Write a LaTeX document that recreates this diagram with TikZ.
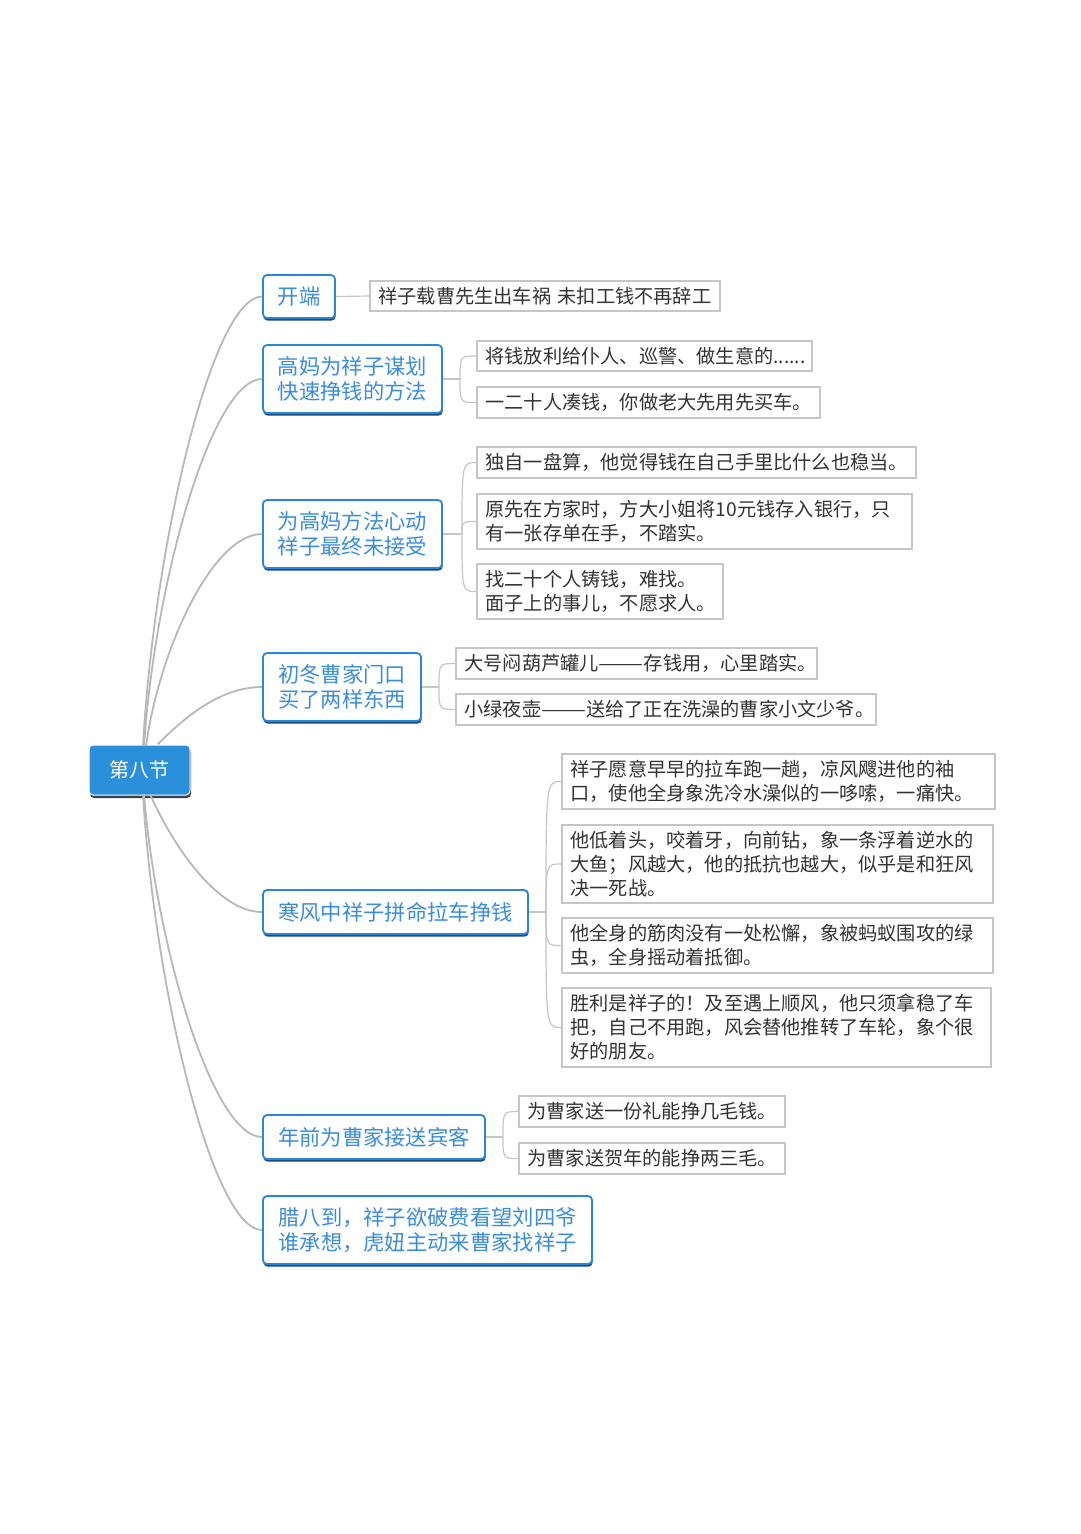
\documentclass[tikz,border=0pt]{standalone}
\usepackage{fontspec}
\newfontfamily\cjk{Noto Sans CJK SC}
\usetikzlibrary{shadows}
\definecolor{bblue}{HTML}{2A87D8}
\definecolor{tblue}{HTML}{3A8DDD}
\definecolor{navy}{HTML}{1D4A78}
\definecolor{rootfill}{HTML}{2B90DC}
\definecolor{lgray}{HTML}{C6C6C6}
\definecolor{cgray}{HTML}{B8B8B8}
\definecolor{txt}{HTML}{333333}
\newcommand{\longdash}{\scalebox{1.4}[1]{——}}
\tikzset{
  rootbox/.style={draw=white, line width=1pt, fill=rootfill, rounded corners=4pt, text=white,
    font=\cjk\fontsize{20}{24}\selectfont, minimum width=101pt, minimum height=50pt, inner sep=0pt,
    drop shadow={shadow xshift=1pt, shadow yshift=-3pt, fill=black!75, opacity=1}},
  topic/.style={draw=bblue, line width=1.8pt, fill=white, rounded corners=4pt, text=tblue,
    font=\cjk\fontsize{21.3}{25}\selectfont, align=center, inner sep=0pt,
    drop shadow={shadow xshift=0.6pt, shadow yshift=-2.6pt, fill=navy, opacity=1}},
  leaf/.style={draw=lgray, line width=1.1pt, fill=white, text=txt,
    font=\cjk\fontsize{19.2}{24}\selectfont, align=left, inner xsep=8.5pt, inner ysep=0pt},
  rootline/.style={draw=cgray, line width=1.8pt},
  subline/.style={draw=lgray, line width=1.2pt}
}
\newcommand{\leafnode}[6]{% name, x, y, width, height, text
  \node[leaf, text width=#4pt-17pt, minimum height=#5pt] (#1) at (#2,#3) {#6};}
\begin{document}
\begin{tikzpicture}[x=1pt,y=-1pt]
\useasboundingbox[fill=white] (0,0) rectangle (1080,1534);

% root
\node[rootbox] (root) at (139.5,770) {第八节};

% topics
\node[topic, minimum width=72pt, minimum height=43pt] (b1) at (299,296.5) {开端};
\node[topic, minimum width=179pt, minimum height=68pt] (b2) at (352.5,379) {高妈为祥子谋划\\快速挣钱的方法};
\node[topic, minimum width=179pt, minimum height=68pt] (b3) at (352.5,534) {为高妈方法心动\\祥子最终未接受};
\node[topic, minimum width=158pt, minimum height=68pt] (b4) at (342,687) {初冬曹家门口\\买了两样东西};
\node[topic, minimum width=265pt, minimum height=44pt] (b5) at (395.5,912) {寒风中祥子拼命拉车挣钱};
\node[topic, minimum width=222pt, minimum height=44pt] (b6) at (374,1137) {年前为曹家接送宾客};
\node[topic, minimum width=329pt, minimum height=68pt] (b7) at (427.5,1230) {腊八到，祥子欲破费看望刘四爷\\谁承想，虎妞主动来曹家找祥子};

% leaves
\leafnode{c1a}{545}{296}{350}{30}{祥子载曹先生出车祸 未扣工钱不再辞工}
\leafnode{c2a}{644.5}{356}{335}{30}{将钱放利给仆人、巡警、做生意的......}
\leafnode{c2b}{648.5}{402.5}{343}{31}{一二十人凑钱，你做老大先用先买车。}
\leafnode{c3a}{696.5}{462.5}{439}{31}{独自一盘算，他觉得钱在自己手里比什么也稳当。}
\leafnode{c3b}{694.5}{521.5}{435}{55}{原先在方家时，方大小姐将10元钱存入银行，只\\有一张存单在手，不踏实。}
\leafnode{c3c}{600}{591.5}{246}{55}{找二十个人铸钱，难找。\\面子上的事儿，不愿求人。}
\leafnode{c4a}{636.5}{663.5}{361}{31}{大号闷葫芦罐儿\longdash 存钱用，心里踏实。}
\leafnode{c4b}{666}{709.5}{420}{31}{小绿夜壶\longdash 送给了正在洗澡的曹家小文少爷。}
\leafnode{c5a}{778.5}{781.5}{433}{55}{祥子愿意早早的拉车跑一趟，凉风飕进他的袖\\口，使他全身象洗冷水澡似的一哆嗦，一痛快。}
\leafnode{c5b}{777.5}{864}{431}{78}{他低着头，咬着牙，向前钻，象一条浮着逆水的\\大鱼；风越大，他的抵抗也越大，似乎是和狂风\\决一死战。}
\leafnode{c5c}{777.5}{945.5}{431}{55}{他全身的筋肉没有一处松懈，象被蚂蚁围攻的绿\\虫，全身摇动着抵御。}
\leafnode{c5d}{776.5}{1027.5}{429}{79}{胜利是祥子的！及至遇上顺风，他只须拿稳了车\\把，自己不用跑，风会替他推转了车轮，象个很\\好的朋友。}
\leafnode{c6a}{652}{1111.5}{266}{31}{为曹家送一份礼能挣几毛钱。}
\leafnode{c6b}{652}{1158.5}{266}{31}{为曹家送贺年的能挣两三毛。}

% root connectors
\coordinate (s1) at (143,746);
\coordinate (s2) at (144,746);
\coordinate (s3) at (146,746);
\coordinate (s4) at (158,744);
\coordinate (s5) at (150,794);
\coordinate (s6) at (144,794);
\coordinate (s7) at (143,794);
\draw[rootline] (s1) .. controls +(11,-200) and +(-50,0) .. (b1.west);
\draw[rootline] (s2) .. controls +(11,-165) and +(-50,0) .. (b2.west);
\draw[rootline] (s3) .. controls +(13,-95) and +(-50,0) .. (b3.west);
\draw[rootline] (s4) .. controls +(30,-30) and +(-40,0) .. (b4.west);
\draw[rootline] (s5) .. controls +(22,50) and +(-45,0) .. (b5.west);
\draw[rootline] (s6) .. controls +(12,150) and +(-50,0) .. (b6.west);
\draw[rootline] (s7) .. controls +(11,190) and +(-50,0) .. (b7.west);

% sub connectors
\draw[subline] (b1.east) -- (c1a.west);

\coordinate (j2) at (460,379);
\draw[subline] (b2.east) -- (j2);
\foreach \c in {c2a,c2b} \draw[subline] (j2) .. controls (j2 |- \c.west) and (j2 |- \c.west) .. (\c.west);

\coordinate (j3) at (462,534);
\draw[subline] (b3.east) -- (j3);
\foreach \c in {c3a,c3b,c3c} \draw[subline] (j3) .. controls (j3 |- \c.west) and (j3 |- \c.west) .. (\c.west);

\coordinate (j4) at (439,687);
\draw[subline] (b4.east) -- (j4);
\foreach \c in {c4a,c4b} \draw[subline] (j4) .. controls (j4 |- \c.west) and (j4 |- \c.west) .. (\c.west);

\coordinate (j5) at (546,912);
\draw[subline] (b5.east) -- (j5);
\foreach \c in {c5a,c5b,c5c,c5d} \draw[subline] (j5) .. controls (j5 |- \c.west) and (j5 |- \c.west) .. (\c.west);

\coordinate (j6) at (503,1137);
\draw[subline] (b6.east) -- (j6);
\foreach \c in {c6a,c6b} \draw[subline] (j6) .. controls (j6 |- \c.west) and (j6 |- \c.west) .. (\c.west);
\end{tikzpicture}
\end{document}
